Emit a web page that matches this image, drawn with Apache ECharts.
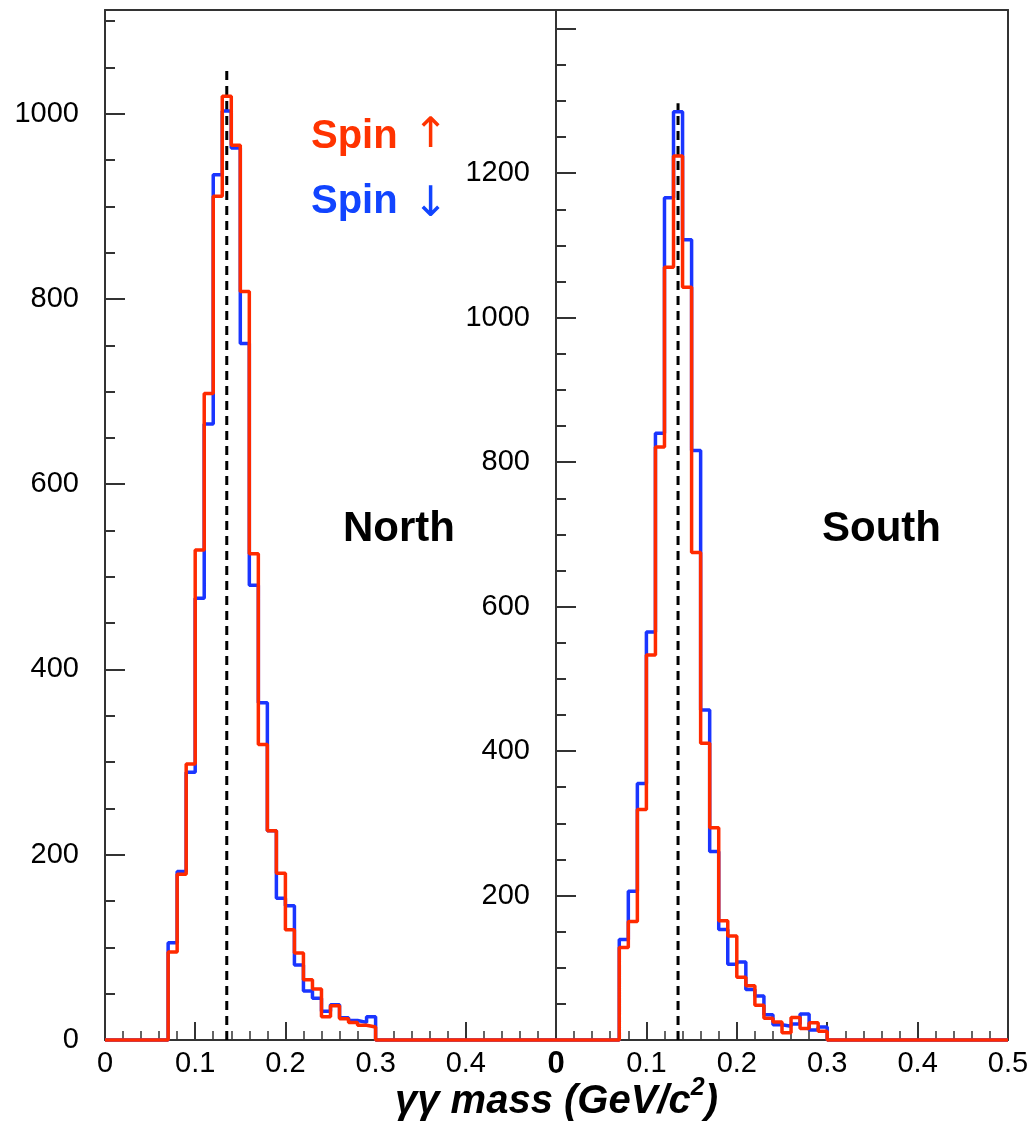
<!DOCTYPE html>
<html>
<head>
<meta charset="utf-8">
<script src="https://cdn.jsdelivr.net/npm/echarts@6/dist/echarts.min.js"></script>
<style>
html,body{margin:0;padding:0;background:#fff;}
#chart{width:1032px;height:1123px;}
</style>
</head>
<body>
<div id="chart"></div>
<script>
// ---- data ----
const binEdges = [0.07,0.08,0.09,0.10,0.11,0.12,0.13,0.14,0.15,0.16,0.17,0.18,0.19,0.20,0.21,0.22,0.23,0.24,0.25,0.26,0.27,0.28,0.29,0.30];
const northUp   = [95,179,298,529,698,911,1019,966,808,525,319,226,180,119,94,65,55,25,37,23,19,16,14];
const northDown = [105,182,289,477,665,934,1003,963,752,491,364,226,153,145,81,53,45,31,38,24,21,19,25];
const southUp   = [128,164,319,533,821,1070,1224,1042,675,411,294,165,144,87,75,48,30,25,10,31,16,24,12];
const southDown = [139,206,355,565,840,1166,1285,1108,816,457,261,153,105,108,70,61,35,21,19,22,36,14,18];
const piMass = 0.135;
const dashTop = [1047, 1297];           // north, south
const xRange = [0, 0.5];
const yMax = [1112, 1426];              // north, south
const xLabelsNorth = [0, 0.1, 0.2, 0.3, 0.4];
const xLabelsSouth = [0, 0.1, 0.2, 0.3, 0.4, 0.5];
const yMajorNorth = [0, 200, 400, 600, 800, 1000];
const yMinorNorth = [50,100,150,250,300,350,450,500,550,650,700,750,850,900,950,1050,1100];
const yLabelsNorth = [0, 200, 400, 600, 800, 1000];
const yMajorSouth = [0, 200, 400, 600, 800, 1000, 1200, 1400];
const yMinorSouth = [50,100,150,250,300,350,450,500,550,650,700,750,850,900,950,1050,1100,1150,1250,1300,1350];
const yLabelsSouth = [200, 400, 600, 800, 1000, 1200];

// ---- build step histograms ----
function stepData(vals) {
  const pts = [[xRange[0], 0]];
  vals.forEach((v, i) => pts.push([binEdges[i], v]));
  pts.push([binEdges[binEdges.length - 1], 0]);
  pts.push([xRange[1], 0]);
  return pts;
}

const RED = '#ff2a00', BLUE = '#1a35ff', AX = '#333';
const LBL = {fontFamily:'Liberation Sans', fontSize:29, color:'#000'};
const fmtX = v => (+v === 0 ? '0' : String(+(+v).toFixed(1)));

function xAxisBottom(grid, labels, boldZero) {
  return {
    gridIndex: grid, type: 'value', min: xRange[0], max: xRange[1], interval: 0.1,
    position: 'bottom',
    axisLine: {show: true, onZero: false, lineStyle: {color: AX, width: 2}},
    axisTick: {show: true, inside: true, length: 18, lineStyle: {color: AX, width: 2}},
    minorTick: {show: true, splitNumber: 5, length: 9, lineStyle: {color: AX, width: 1.5}},
    splitLine: {show: false}, minorSplitLine: {show: false},
    axisLabel: Object.assign({}, LBL, {
      customValues: labels, margin: 9,
      formatter: v => (boldZero && +v === 0) ? '{b|0}' : fmtX(v),
      rich: {b: {fontFamily:'Liberation Sans', fontSize: 31, fontWeight: 'bold', color: '#000'}}
    })
  };
}
function xAxisTop(grid) {
  return {
    gridIndex: grid, type: 'value', min: xRange[0], max: xRange[1], position: 'top',
    axisLine: {show: true, onZero: false, lineStyle: {color: AX, width: 2}},
    axisTick: {show: false}, axisLabel: {show: false}, splitLine: {show: false}
  };
}
function yAxisMain(grid, max, major, labels) {
  return {
    gridIndex: grid, type: 'value', min: 0, max: max, position: 'left',
    axisLine: {show: true, onZero: false, lineStyle: {color: AX, width: 2}},
    axisTick: {show: true, inside: true, length: 20, customValues: major, lineStyle: {color: AX, width: 2}},
    axisLabel: Object.assign({}, LBL, {customValues: labels, margin: 26, formatter: v => String(v)}),
    splitLine: {show: false}
  };
}
function yAxisMinor(grid, max, minor) {
  return {
    gridIndex: grid, type: 'value', min: 0, max: max, position: 'left',
    axisLine: {show: false},
    axisTick: {show: true, inside: true, length: 10, customValues: minor, lineStyle: {color: AX, width: 2}},
    axisLabel: {show: false}, splitLine: {show: false}
  };
}

function lineSeries(xi, yi, data, color, width, dashed) {
  return {
    type: 'line', xAxisIndex: xi, yAxisIndex: yi, data: data,
    step: dashed ? false : 'end', symbol: 'none', clip: false, silent: true,
    lineStyle: {color: color, width: width, type: dashed ? [9, 6] : 'solid'},
    z: dashed ? 3 : (color === RED ? 5 : 4)
  };
}

const option = {
  animation: false,
  backgroundColor: '#fff',
  grid: [
    {left: 105, right: 476, top: 10, bottom: 83},
    {left: 556, right: 24, top: 10, bottom: 83}
  ],
  xAxis: [xAxisBottom(0, xLabelsNorth, false), xAxisTop(0), xAxisBottom(1, xLabelsSouth, true), xAxisTop(1)],
  yAxis: [
    yAxisMain(0, yMax[0], yMajorNorth, yLabelsNorth),
    yAxisMinor(0, yMax[0], yMinorNorth),
    yAxisMain(1, yMax[1], yMajorSouth, yLabelsSouth),
    yAxisMinor(1, yMax[1], yMinorSouth),
    {gridIndex: 1, type: 'value', min: 0, max: yMax[1], position: 'right',
     axisLine: {show: true, onZero: false, lineStyle: {color: AX, width: 2}},
     axisTick: {show: false}, axisLabel: {show: false}, splitLine: {show: false}}
  ],
  series: [
    lineSeries(0, 0, [[piMass, 0], [piMass, dashTop[0]]], '#000', 3, true),
    lineSeries(0, 0, stepData(northDown), BLUE, 3.5, false),
    lineSeries(0, 0, stepData(northUp), RED, 3.5, false),
    lineSeries(2, 2, [[piMass, 0], [piMass, dashTop[1]]], '#000', 3, true),
    lineSeries(2, 2, stepData(southDown), BLUE, 3.5, false),
    lineSeries(2, 2, stepData(southUp), RED, 3.5, false)
  ],
  graphic: [
    {type: 'text', left: 311, top: 117, style: {text: 'Spin', fill: '#ff3300', font: 'bold 40px "Liberation Sans"'}},
    {type: 'text', left: 413, top: 115, style: {text: '\u2191', fill: '#ff3300', font: '42px "DejaVu Sans"'}},
    {type: 'text', left: 311, top: 182, style: {text: 'Spin', fill: '#1144ff', font: 'bold 40px "Liberation Sans"'}},
    {type: 'text', left: 413, top: 184, style: {text: '\u2193', fill: '#1144ff', font: '42px "DejaVu Sans"'}},
    {type: 'text', left: 343, top: 508, style: {text: 'North', fill: '#000', font: 'bold 42px "Liberation Sans"'}},
    {type: 'text', left: 822, top: 508, style: {text: 'South', fill: '#000', font: 'bold 42px "Liberation Sans"'}},
    {type: 'text', left: 395, top: 1076,
     style: {
       text: '{a|\u03b3\u03b3 mass (GeV/c}{s|2}{a|)}',
       rich: {
         a: {font: 'italic bold 40px "Liberation Sans"', fill: '#000', verticalAlign: 'bottom', lineHeight: 46},
         s: {font: 'italic bold 25px "Liberation Sans"', fill: '#000', verticalAlign: 'top', lineHeight: 46, padding: [0, 0, 18, 0]}
       }
     }}
  ]
};

const chart = echarts.init(document.getElementById('chart'), null, {renderer: 'canvas'});
chart.setOption(option);
</script>
</body>
</html>
